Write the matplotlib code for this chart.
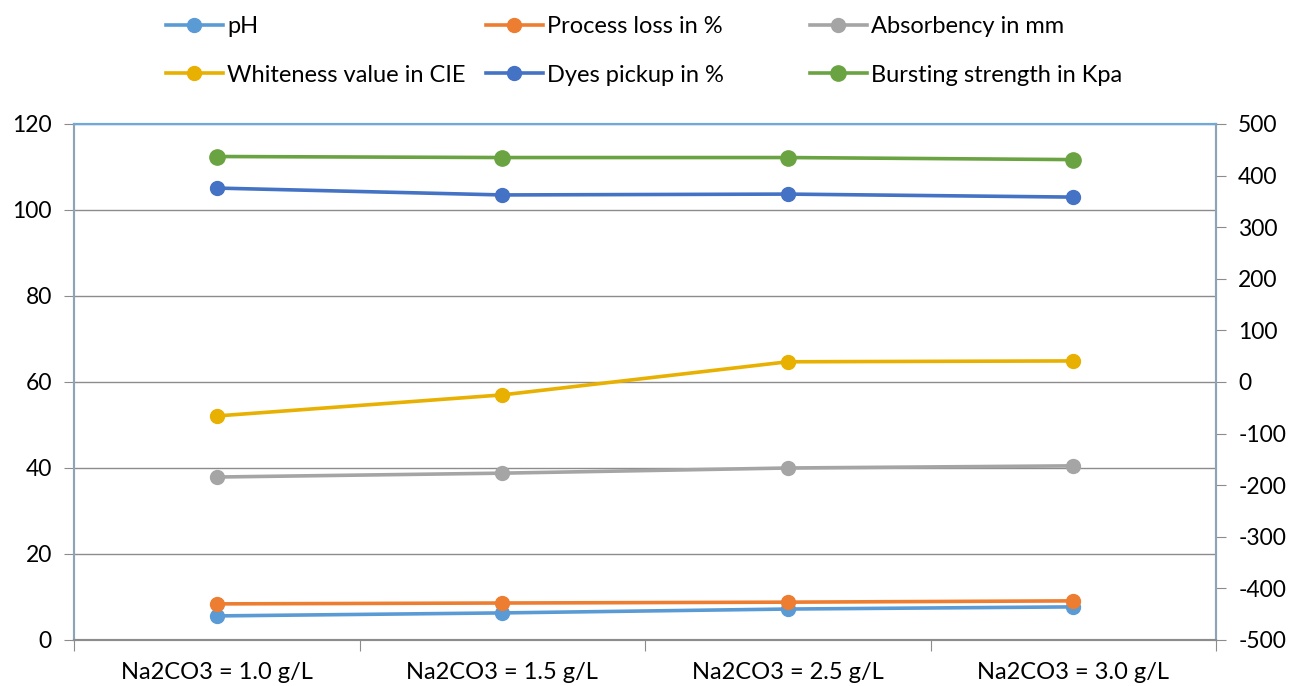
import numpy as np
import matplotlib.pyplot as plt

plt.rcParams['font.family'] = ['Lato', 'DejaVu Sans']
plt.rcParams['axes.unicode_minus'] = False

categories = ['Na2CO3 = 1.0 g/L', 'Na2CO3 = 1.5 g/L', 'Na2CO3 = 2.5 g/L', 'Na2CO3 = 3.0 g/L']
ph = [5.6, 6.3, 7.2, 7.7]
process_loss = [8.4, 8.6, 8.8, 9.1]
absorbency = [37.9, 38.8, 40.0, 40.5]
whiteness = [52.1, 57.0, 64.7, 64.9]
dyes_pickup = [105.1, 103.5, 103.7, 103.0]
bursting = [437, 435, 435, 431]  # secondary axis

x = np.arange(len(categories))

fig = plt.figure(figsize=(12.91, 6.86), dpi=100)
ax = fig.add_axes([74 / 1291, 46 / 686, 1142 / 1291, 516 / 686])
ax2 = ax.twinx()

style = dict(linewidth=2.6, marker='o', markersize=10)
h_ph, = ax.plot(x, ph, color='#5B9BD5', label='pH', **style)
h_pl, = ax.plot(x, process_loss, color='#ED7D31', label='Process loss in %', **style)
h_ab, = ax.plot(x, absorbency, color='#A5A5A5', label='Absorbency in mm', **style)
h_wh, = ax.plot(x, whiteness, color='#E8B000', label='Whiteness value in CIE', **style)
h_dy, = ax.plot(x, dyes_pickup, color='#4472C4', label='Dyes pickup in %', **style)
h_bu, = ax2.plot(x, bursting, color='#6AA342', label='Bursting strength in Kpa',
                 linewidth=2.6, marker='o', markersize=11)

ax.set_xlim(-0.5, 3.5)
ax.set_ylim(0, 120)
ax.set_yticks(np.arange(0, 121, 20))
ax2.set_ylim(-500, 500)
ax2.set_yticks(np.arange(-500, 501, 100))

ax.grid(axis='y', color='#8C8C8C', linewidth=1)
ax.set_axisbelow(True)

# category boundaries as tick marks, labels at centers
ax.set_xticks(np.arange(-0.5, 3.6, 1))
ax.set_xticklabels([])
ax.set_xticks(x, minor=True)
ax.set_xticklabels(categories, minor=True)
ax.tick_params(axis='x', which='major', length=8, color='#8C8C8C', direction='out')
ax.tick_params(axis='x', which='minor', length=0, labelsize=17, pad=16)
ax.tick_params(axis='y', length=7, color='#8C8C8C', labelsize=16.5, pad=9)
ax2.tick_params(axis='y', length=7, color='#8C8C8C', labelsize=16.5, pad=9)

for a in (ax, ax2):
    a.spines['left'].set_color('#8EA3B8')
    a.spines['right'].set_color('#8EA3B8')
    a.spines['bottom'].set_color('#8C8C8C')
    a.spines['top'].set_color('#6FA8DC')
    for s in a.spines.values():
        s.set_linewidth(1.5)

# legend: three columns of two entries, fixed column starts
columns = [(h_ph, h_wh), (h_pl, h_dy), (h_ab, h_bu)]
col_x = [166, 486, 810]
for hs, cx in zip(columns, col_x):
    fig.legend(handles=list(hs), labels=[h.get_label() for h in hs],
               loc='upper left', bbox_to_anchor=(cx / 1291, 1 - 16 / 686),
               frameon=False, fontsize=17, handlelength=2.4, handletextpad=0.2,
               borderpad=0, borderaxespad=0, labelspacing=1.17)

fig.savefig('out.png', dpi=100)
